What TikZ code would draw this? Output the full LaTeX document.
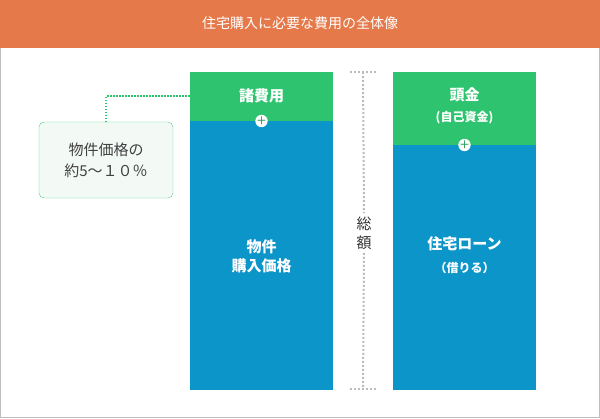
\documentclass[tikz,border=0pt]{standalone}
\usepackage{fontspec}
\newfontfamily\jp{Noto Sans CJK JP}
\definecolor{hdr}{HTML}{E5794A}
\definecolor{grn}{HTML}{2EC46F}
\definecolor{blu}{HTML}{0C95C9}
\definecolor{pale}{HTML}{F3FAF6}
\definecolor{dotg}{HTML}{BBBBBB}
\tikzset{
 lbl/.style={text=white,font=\jp\bfseries\fontsize{15}{19}\selectfont,align=center},
 sublbl/.style={text=white,font=\jp\bfseries\fontsize{12}{14}\selectfont},
 plus/.style={circle,fill=white,minimum size=12pt,inner sep=0pt,text=grn!80!black,font=\sffamily\bfseries\fontsize{11}{11}\selectfont},
}
\begin{document}
\begin{tikzpicture}[x=1pt,y=-1pt]
\useasboundingbox (0,0) rectangle (600,418);
\draw[black!25,fill=white] (0.5,0.5) rectangle (599.5,417.5);
\fill[hdr] (0,0) rectangle (600,48);
\node[text=white,font=\jp\fontsize{14}{16}\selectfont] (title) at (300,23) {住宅購入に必要な費用の全体像};
% left column
\fill[grn] (190,72) rectangle (333,121);
\fill[blu] (190,121) rectangle (333,390);
\node[lbl] (shohiyo) at (261.5,96) {諸費用};
\node[plus] (p1) at (261.5,121) {+};
\node[lbl] (bukken) at (261.5,256) {物件\\購入価格};
% right column
\fill[grn] (393,72) rectangle (536,145);
\fill[blu] (393,145) rectangle (536,390);
\node[lbl] (atama) at (464.5,95) {頭金};
\node[sublbl] (jiko) at (464.5,118) {(自己資金)};
\node[plus] (p2) at (464.5,145) {+};
\node[lbl] (loan) at (464.5,244) {住宅ローン};
\node[sublbl] (kari) at (464.5,268) {（借りる）};
% total
\node[font=\jp\fontsize{15}{19}\selectfont,text=black!80,align=center] (sogaku) at (364,233) {総\\額};
\coordinate (tt) at (363,72);
\coordinate (bb) at (363,389);
\draw[dotg,line width=2pt,dash pattern=on 2pt off 2pt] (350,72) -- (377,72);
\draw[dotg,line width=2pt,dash pattern=on 2pt off 2pt] (350,389) -- (377,389);
\draw[dotg,line width=2pt,dash pattern=on 2pt off 2pt] (tt) -- (sogaku.north);
\draw[dotg,line width=2pt,dash pattern=on 2pt off 2pt] (sogaku.south) -- (bb);
% callout
\node[draw=grn!80,fill=pale,rounded corners=5pt,minimum width=134pt,minimum height=76pt,align=center,font=\jp\fontsize{15}{21}\selectfont,text=black!75] (call) at (106,160) {物件価格の\\約5〜１０％};
\coordinate (c1) at (190,96);
\draw[grn,line width=1.3pt,dash pattern=on 1.3pt off 1.7pt] (call.north) |- (c1);
\end{tikzpicture}
\end{document}
